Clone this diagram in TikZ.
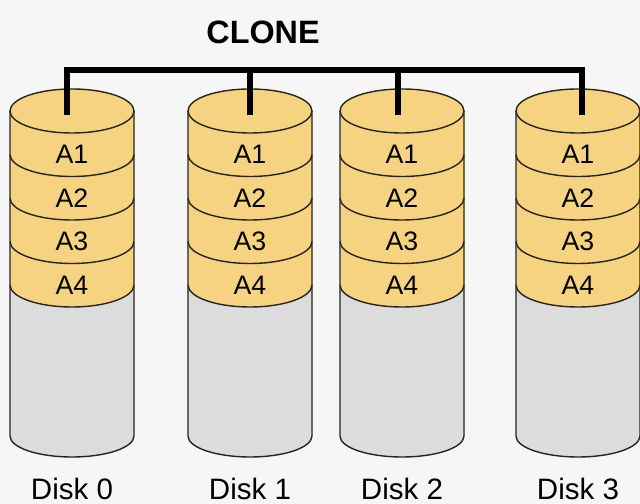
\documentclass[tikz,border=0pt]{standalone}
\usepackage{fontspec}
\setmainfont{Liberation Sans}
\usepackage{tikz}

\definecolor{DiskGold}{RGB}{246,211,128}
\definecolor{DiskGray}{RGB}{220,220,220}
\definecolor{DiskEdge}{RGB}{40,35,30}
\definecolor{Paper}{RGB}{246,246,246}

\tikzset{
   disk edge/.style={draw=DiskEdge, line width=1pt},
   bus line/.style={line width=4.4pt, draw=black},
   slice label/.style={font=\fontsize{19}{19}\selectfont},
   disk label/.style={font=\fontsize{21}{21}\selectfont}
}

\begin{document}
\begin{tikzpicture}[x=0.025cm, y=0.025cm]
      \useasboundingbox (0,0) rectangle (640,504);
      \fill [Paper] (0,0) rectangle (640,504);

      \node (clone) at (263,472) [font=\bfseries\fontsize{23}{23}\selectfont] {CLONE};

      \foreach \x/\c/\n in {72/67/0, 250/250/1, 402/398/2, 578/582/3} {
         % body
         \fill [DiskGray] (\x-62,393) -- (\x-62,68)
            arc [start angle=180, end angle=360, x radius=62, y radius=21]
            -- (\x+62,393) -- cycle;
         \fill [DiskGold] (\x-62,393) -- (\x-62,219)
            arc [start angle=180, end angle=360, x radius=62, y radius=22]
            -- (\x+62,393) -- cycle;
         \foreach \y in {349.5, 306, 262.5, 219}
            \draw [disk edge] (\x-62,\y)
               arc [start angle=180, end angle=360, x radius=62, y radius=22];
         \draw [disk edge] (\x-62,393) -- (\x-62,68)
            arc [start angle=180, end angle=360, x radius=62, y radius=21]
            -- (\x+62,393);
         \draw [disk edge, fill=DiskGold] (\x,393) ellipse [x radius=62, y radius=22];

         \node (a1-\n) at (\x,349.5) [slice label] {A1};
         \node (a2-\n) at (\x,306) [slice label] {A2};
         \node (a3-\n) at (\x,262.5) [slice label] {A3};
         \node (a4-\n) at (\x,219) [slice label] {A4};
         \node (disk\n) at (\x,15) [disk label] {Disk \n};

         \coordinate (top\n) at (\c,389);
      }

      \coordinate (bus) at (0,434);
      \draw [bus line] (top0) -- (top0 |- bus) -- (top3 |- bus) -- (top3);
      \draw [bus line] (top1) -- (top1 |- bus);
      \draw [bus line] (top2) -- (top2 |- bus);
   \end{tikzpicture}
\end{document}
